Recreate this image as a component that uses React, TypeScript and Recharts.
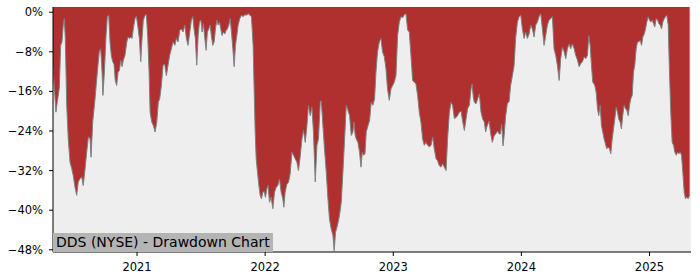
import { AreaChart, Area, XAxis, YAxis, CartesianGrid } from "recharts";

document.body.style.margin = "0";

// decimal years
const dates = [
  2020.344, 2020.367, 2020.377, 2020.393, 2020.404, 2020.414, 2020.424, 2020.432, 2020.44, 2020.451,
  2020.463, 2020.477, 2020.49, 2020.502, 2020.516, 2020.529, 2020.541, 2020.555, 2020.568, 2020.58,
  2020.594, 2020.607, 2020.62, 2020.633, 2020.641, 2020.654, 2020.672, 2020.69, 2020.705, 2020.716,
  2020.727, 2020.734, 2020.745, 2020.758, 2020.768, 2020.779, 2020.789, 2020.799, 2020.81, 2020.82,
  2020.83, 2020.841, 2020.852, 2020.862, 2020.873, 2020.883, 2020.893, 2020.906, 2020.92, 2020.93,
  2020.94, 2020.951, 2020.961, 2020.971, 2020.984, 2020.995, 2021.005, 2021.018, 2021.029, 2021.039,
  2021.049, 2021.063, 2021.073, 2021.084, 2021.094, 2021.102, 2021.115, 2021.127, 2021.141, 2021.154,
  2021.166, 2021.177, 2021.19, 2021.203, 2021.216, 2021.229, 2021.242, 2021.255, 2021.268, 2021.281,
  2021.295, 2021.307, 2021.32, 2021.334, 2021.346, 2021.359, 2021.373, 2021.385, 2021.398, 2021.412,
  2021.424, 2021.435, 2021.445, 2021.455, 2021.466, 2021.477, 2021.487, 2021.498, 2021.508, 2021.518,
  2021.529, 2021.539, 2021.549, 2021.56, 2021.57, 2021.58, 2021.591, 2021.602, 2021.612, 2021.623,
  2021.633, 2021.643, 2021.654, 2021.664, 2021.674, 2021.685, 2021.695, 2021.705, 2021.716, 2021.727,
  2021.737, 2021.748, 2021.758, 2021.768, 2021.779, 2021.789, 2021.802, 2021.815, 2021.828, 2021.841,
  2021.854, 2021.867, 2021.88, 2021.893, 2021.906, 2021.914, 2021.922, 2021.93, 2021.94, 2021.951,
  2021.961, 2021.971, 2021.982, 2021.992, 2022.002, 2022.013, 2022.023, 2022.034, 2022.047, 2022.06,
  2022.073, 2022.086, 2022.099, 2022.112, 2022.125, 2022.138, 2022.146, 2022.156, 2022.17, 2022.182,
  2022.195, 2022.209, 2022.221, 2022.234, 2022.248, 2022.26, 2022.273, 2022.287, 2022.299, 2022.313,
  2022.326, 2022.338, 2022.352, 2022.365, 2022.377, 2022.391, 2022.404, 2022.416, 2022.43, 2022.438,
  2022.451, 2022.463, 2022.477, 2022.49, 2022.502, 2022.516, 2022.529, 2022.539, 2022.549, 2022.56,
  2022.57, 2022.58, 2022.594, 2022.607, 2022.62, 2022.633, 2022.646, 2022.659, 2022.672, 2022.685,
  2022.693, 2022.703, 2022.711, 2022.724, 2022.737, 2022.748, 2022.758, 2022.768, 2022.779, 2022.789,
  2022.802, 2022.815, 2022.828, 2022.841, 2022.854, 2022.865, 2022.877, 2022.891, 2022.904, 2022.916,
  2022.93, 2022.943, 2022.955, 2022.969, 2022.982, 2022.995, 2023.008, 2023.021, 2023.034, 2023.047,
  2023.06, 2023.073, 2023.086, 2023.099, 2023.112, 2023.125, 2023.138, 2023.151, 2023.164, 2023.177,
  2023.19, 2023.203, 2023.216, 2023.229, 2023.242, 2023.255, 2023.268, 2023.281, 2023.295, 2023.307,
  2023.32, 2023.334, 2023.346, 2023.359, 2023.373, 2023.385, 2023.398, 2023.412, 2023.424, 2023.438,
  2023.451, 2023.463, 2023.477, 2023.49, 2023.502, 2023.516, 2023.529, 2023.541, 2023.555, 2023.568,
  2023.58, 2023.594, 2023.607, 2023.615, 2023.625, 2023.633, 2023.646, 2023.659, 2023.672, 2023.685,
  2023.698, 2023.711, 2023.721, 2023.732, 2023.748, 2023.76, 2023.773, 2023.787, 2023.799, 2023.813,
  2023.826, 2023.836, 2023.846, 2023.857, 2023.865, 2023.877, 2023.891, 2023.904, 2023.916, 2023.93,
  2023.943, 2023.955, 2023.969, 2023.982, 2023.995, 2024.008, 2024.021, 2024.034, 2024.047, 2024.06,
  2024.073, 2024.086, 2024.099, 2024.112, 2024.125, 2024.138, 2024.151, 2024.164, 2024.177, 2024.19,
  2024.203, 2024.216, 2024.229, 2024.242, 2024.255, 2024.268, 2024.281, 2024.295, 2024.307, 2024.32,
  2024.334, 2024.346, 2024.359, 2024.373, 2024.385, 2024.398, 2024.412, 2024.424, 2024.438, 2024.451,
  2024.463, 2024.477, 2024.49, 2024.502, 2024.516, 2024.526, 2024.537, 2024.547, 2024.557, 2024.573,
  2024.584, 2024.594, 2024.604, 2024.615, 2024.625, 2024.635, 2024.646, 2024.656, 2024.666, 2024.677,
  2024.688, 2024.698, 2024.709, 2024.719, 2024.729, 2024.74, 2024.75, 2024.76, 2024.771, 2024.781,
  2024.791, 2024.802, 2024.813, 2024.823, 2024.834, 2024.844, 2024.854, 2024.865, 2024.875, 2024.885,
  2024.896, 2024.906, 2024.916, 2024.927, 2024.938, 2024.948, 2024.959, 2024.969, 2024.979, 2024.99,
  2025.0, 2025.01, 2025.021, 2025.031, 2025.041, 2025.052, 2025.063, 2025.073, 2025.084, 2025.094,
  2025.104, 2025.115, 2025.125, 2025.135, 2025.146, 2025.156, 2025.166, 2025.177, 2025.188, 2025.198,
  2025.209, 2025.219, 2025.229, 2025.24, 2025.25, 2025.26, 2025.271, 2025.281, 2025.291, 2025.302,
  2025.313,
];

// drawdown in %
const drawdown = [
  -11.0, -20.2, -18.2, -15.4, -6.7, -6.0, -2.6, -1.3, -5.3, -18.8,
  -25.6, -30.3, -31.6, -33.0, -35.4, -37.0, -34.3, -33.6, -33.3, -35.0,
  -31.7, -28.3, -25.2, -25.5, -29.3, -22.2, -17.5, -12.1, -8.0, -7.4,
  -12.1, -16.8, -12.1, -4.7, -0.9, -0.6, -6.0, -8.7, -10.0, -10.5,
  -13.8, -14.8, -12.1, -11.8, -9.7, -11.0, -9.7, -8.7, -6.0, -5.0,
  -5.3, -5.0, -5.3, -3.3, -1.3, -0.8, -2.6, -5.3, -10.0, -5.3,
  -1.6, -0.6, -0.5, -5.3, -12.1, -20.2, -22.2, -22.9, -24.2, -22.2,
  -18.2, -17.5, -14.8, -10.7, -10.5, -12.8, -10.7, -8.7, -7.4, -6.0,
  -6.7, -5.3, -6.0, -3.6, -3.4, -4.0, -2.6, -5.3, -6.7, -4.0,
  -1.6, -0.9, -3.4, -5.3, -10.7, -4.7, -2.0, -1.6, -4.0, -2.3,
  -5.3, -7.7, -4.0, -3.4, -2.6, -4.7, -6.7, -6.0, -3.4, -1.6,
  -2.6, -2.0, -3.4, -4.7, -4.0, -4.4, -3.7, -3.4, -2.6, -1.3,
  -4.0, -7.4, -11.0, -6.7, -4.7, -2.6, -1.3, -0.6, -0.9, -0.5,
  -0.6, -0.3, -0.6, -0.9, -6.7, -15.5, -24.2, -29.6, -32.3, -35.0,
  -37.0, -37.7, -36.4, -36.2, -37.4, -35.7, -35.0, -38.4, -37.4, -39.7,
  -36.4, -35.4, -35.0, -33.7, -36.4, -37.7, -39.4, -36.4, -34.7, -34.4,
  -32.7, -28.3, -28.9, -29.6, -30.3, -32.0, -29.3, -25.6, -23.9, -26.3,
  -23.0, -18.8, -20.9, -19.2, -24.2, -34.3, -26.9, -25.6, -18.2, -17.9,
  -23.0, -27.6, -32.3, -37.7, -41.8, -43.8, -45.1, -48.2, -44.5, -43.5,
  -42.4, -41.1, -38.4, -32.3, -25.6, -18.8, -19.8, -20.9, -24.9, -24.2,
  -22.2, -24.9, -25.6, -26.3, -28.3, -31.3, -28.3, -28.9, -28.6, -24.2,
  -23.0, -21.9, -18.2, -18.8, -17.5, -12.1, -8.0, -6.0, -5.3, -8.0,
  -9.0, -11.4, -15.5, -17.8, -15.5, -14.8, -14.1, -12.8, -4.7, -2.0,
  -0.9, -1.1, -0.5, -0.3, -3.6, -4.0, -8.7, -13.8, -14.1, -14.5,
  -16.8, -20.2, -22.2, -25.6, -26.9, -26.3, -26.9, -27.2, -26.9, -25.2,
  -27.6, -29.6, -30.0, -31.0, -31.3, -30.6, -31.3, -32.0, -25.6, -20.2,
  -18.2, -18.8, -21.5, -21.3, -20.9, -20.2, -20.0, -22.0, -23.9, -21.6,
  -19.5, -18.8, -15.5, -14.5, -17.2, -18.2, -18.5, -17.5, -16.5, -20.2,
  -21.6, -22.2, -24.2, -23.0, -22.0, -24.5, -26.3, -25.0, -24.6, -24.0,
  -24.6, -24.6, -22.6, -27.0, -25.0, -21.0, -18.4, -18.1, -14.8, -12.8,
  -10.8, -5.3, -2.0, -0.9, -0.6, -3.4, -5.3, -4.0, -5.3, -4.4,
  -2.6, -3.4, -5.0, -2.6, -2.0, -0.9, -0.3, -3.4, -6.7, -4.7,
  -2.6, -1.6, -1.3, -0.9, -7.4, -8.7, -10.7, -13.8, -9.4, -7.1,
  -8.0, -9.4, -7.4, -6.4, -7.4, -6.4, -7.4, -8.7, -9.7, -11.0,
  -10.4, -10.0, -9.0, -9.4, -8.7, -4.7, -6.7, -10.7, -14.1, -14.8,
  -16.2, -19.5, -20.9, -18.8, -22.9, -24.2, -25.6, -26.6, -27.6, -27.3,
  -27.6, -28.6, -25.6, -23.6, -21.6, -19.2, -20.2, -21.6, -22.2, -23.6,
  -20.9, -18.8, -19.5, -19.8, -20.9, -18.8, -17.5, -16.8, -12.1, -10.7,
  -7.4, -6.0, -6.0, -5.7, -6.7, -5.0, -4.4, -3.4, -2.0, -0.9,
  -1.6, -2.0, -1.6, -2.3, -3.0, -1.3, -1.6, -2.3, -2.6, -3.4,
  -2.0, -1.3, -0.9, -0.6, -2.6, -12.1, -20.2, -26.3, -26.9, -28.3,
  -28.9, -28.3, -28.6, -28.3, -28.9, -32.3, -36.4, -37.7, -37.4, -37.7,
  -37.0,
];

const yearTicks = [2021, 2022, 2023, 2024, 2025];
const pctTicks = [0, -8, -16, -24, -32, -40, -48];

const X_MIN = 2020.344;
const X_MAX = 2025.324;
const Y_MIN = -48.45;
const Y_MAX = 1.05;

const data = dates.map((t, i) => ({ t, dd: drawdown[i] }));

const FONT = "DejaVu Sans, sans-serif";
const fmtPct = (v: number) => (v < 0 ? "\u2212" : "") + Math.abs(v) + "%";

export default function App() {
  return (
    <div style={{ position: "relative", width: 700, height: 280, background: "#fff" }}>
      <AreaChart
        width={700}
        height={280}
        data={data}
        margin={{ top: 7, right: 9, bottom: 0, left: 0 }}
      >
        <CartesianGrid horizontal={false} vertical={false} fill="#eeeeee" />
        <XAxis
          dataKey="t"
          type="number"
          domain={[X_MIN, X_MAX]}
          allowDataOverflow
          ticks={yearTicks}
          tickFormatter={(v: number) => String(v)}
          height={28}
          tickSize={4}
          tickMargin={7}
          stroke="#000"
          tick={{ fill: "#000", fontSize: 11.5, fontFamily: FONT }}
        />
        <XAxis
          xAxisId="top"
          orientation="top"
          dataKey="t"
          type="number"
          domain={[X_MIN, X_MAX]}
          allowDataOverflow
          height={0}
          tick={false}
          tickLine={false}
          stroke="#000"
        />
        <YAxis
          type="number"
          domain={[Y_MIN, Y_MAX]}
          allowDataOverflow
          ticks={pctTicks}
          tickFormatter={fmtPct}
          width={53}
          tickSize={4}
          tickMargin={6}
          stroke="#000"
          tick={{ fill: "#000", fontSize: 11.5, fontFamily: FONT }}
        />
        <YAxis
          yAxisId="right"
          orientation="right"
          type="number"
          domain={[Y_MIN, Y_MAX]}
          width={0}
          tick={false}
          tickLine={false}
          stroke="#000"
        />
        <Area
          type="linear"
          dataKey="dd"
          baseValue={Y_MAX}
          stroke="#808080"
          strokeWidth={1}
          fill="#b03030"
          fillOpacity={1}
          isAnimationActive={false}
          dot={false}
          activeDot={false}
        />
      </AreaChart>
      <div
        style={{
          position: "absolute",
          left: 53,
          top: 233,
          height: 19,
          lineHeight: "19px",
          padding: "0 3px",
          background: "#b4b4b4",
          color: "#000",
          fontFamily: FONT,
          fontSize: 14,
          whiteSpace: "nowrap",
        }}
      >
        DDS (NYSE) - Drawdown Chart
      </div>
    </div>
  );
}
